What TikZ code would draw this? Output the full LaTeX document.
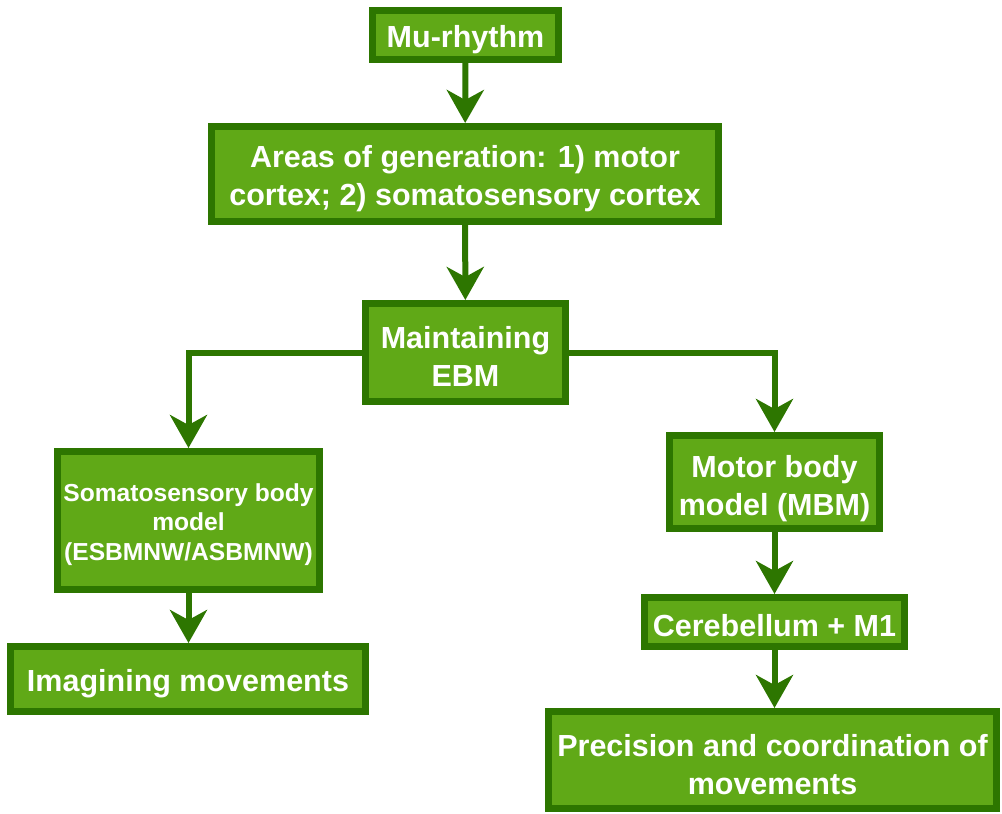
\documentclass[tikz,border=0pt]{standalone}
\usepackage{fontspec}
\setmainfont{Liberation Sans}
\usetikzlibrary{arrows.meta}
\definecolor{boxfill}{HTML}{60A917}
\definecolor{boxline}{HTML}{2D7600}
% strut that lowers the text a little inside its box
\newcommand{\lowstrut}[1]{\rule{0pt}{#1}}
\begin{document}
\begin{tikzpicture}[x=1pt,y=-1pt,
  box/.style={draw=boxline, fill=boxfill, line width=7pt, inner sep=0pt,
    text=white, align=center, font=\fontsize{30.5}{38}\selectfont\bfseries},
  smallbox/.style={box, font=\fontsize{24.6}{29.5}\selectfont\bfseries},
  link/.style={draw=boxline, line width=6pt,
    -{Stealth[length=33pt, width=37pt, inset=10pt]}}]
\useasboundingbox (0,0) rectangle (1002,814);

\node[box, minimum width=186pt, minimum height=49pt] (mu) at (465.5,35)
  {\lowstrut{32pt}Mu-rhythm};
\node[box, minimum width=507pt, minimum height=95pt] (areas) at (465,174)
  {\lowstrut{32pt}Areas of generation: 1) motor\\cortex; 2) somatosensory cortex};
\node[box, minimum width=200pt, minimum height=98pt] (ebm) at (465.5,352.5)
  {\lowstrut{30pt}Maintaining\\EBM};
\node[smallbox, minimum width=262pt, minimum height=138pt] (soma) at (188.5,520.5)
  {\lowstrut{26pt}Somatosensory body\\model\\(ESBMNW/ASBMNW)};
\node[box, minimum width=355pt, minimum height=65pt] (imag) at (188,679)
  {\lowstrut{32pt}Imagining movements};
\node[box, minimum width=210pt, minimum height=93pt] (mbm) at (774.5,482)
  {\lowstrut{35pt}Motor body\\model (MBM)};
\node[box, minimum width=260pt, minimum height=49pt] (cer) at (774.5,622)
  {\lowstrut{30pt}Cerebellum + M1};
\node[box, minimum width=448pt, minimum height=97pt] (prec) at (772.5,760)
  {\lowstrut{31pt}Precision and coordination of\\movements};

\draw[link] (mu) -- (areas);
\draw[link] (areas) -- (ebm);
\draw[link] (ebm.west) -| (soma.north);
\draw[link] (ebm.east) -| (mbm.north);
\draw[link] (soma) -- (soma.south |- imag.north);
\draw[link] (mbm) -- (cer);
\draw[link] (cer) -- (cer.south |- prec.north);
\end{tikzpicture}
\end{document}
